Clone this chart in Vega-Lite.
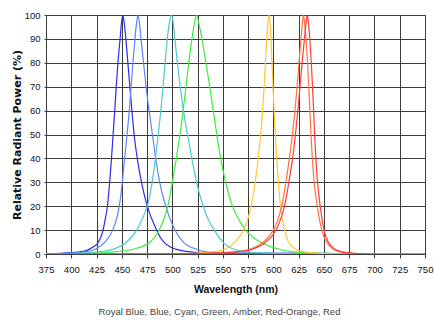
{
  "$schema": "https://vega.github.io/schema/vega-lite/v6.json",
  "width": 379,
  "height": 239,
  "autosize": {"type": "none"},
  "padding": {"left": 46, "top": 15, "right": 9, "bottom": 73},
  "background": "white",
  "title": {
    "text": "Royal Blue, Blue, Cyan, Green, Amber, Red-Orange, Red",
    "orient": "bottom",
    "anchor": "middle",
    "font": "Liberation Sans",
    "fontSize": 9.5,
    "fontWeight": "normal",
    "color": "#444444",
    "offset": 12,
    "dx": -16
  },
  "data": {
    "values": [
      {"s":"Royal Blue","x":375,"y":0},{"s":"Royal Blue","x":400,"y":0.6},{"s":"Royal Blue","x":410,"y":1},{"s":"Royal Blue","x":416,"y":1.6},{"s":"Royal Blue","x":421.8,"y":3},{"s":"Royal Blue","x":427,"y":5},{"s":"Royal Blue","x":431.5,"y":10},{"s":"Royal Blue","x":433.8,"y":15},{"s":"Royal Blue","x":435.8,"y":20},{"s":"Royal Blue","x":438,"y":30},{"s":"Royal Blue","x":439.8,"y":40},{"s":"Royal Blue","x":441.4,"y":50},{"s":"Royal Blue","x":443,"y":60},{"s":"Royal Blue","x":444.5,"y":70},{"s":"Royal Blue","x":446.2,"y":80},{"s":"Royal Blue","x":448.3,"y":90},{"s":"Royal Blue","x":449.8,"y":97},{"s":"Royal Blue","x":451,"y":100},{"s":"Royal Blue","x":452.3,"y":97},{"s":"Royal Blue","x":454,"y":90},{"s":"Royal Blue","x":456,"y":80},{"s":"Royal Blue","x":458,"y":70},{"s":"Royal Blue","x":460,"y":60},{"s":"Royal Blue","x":462.2,"y":50},{"s":"Royal Blue","x":465.3,"y":40},{"s":"Royal Blue","x":469.5,"y":30},{"s":"Royal Blue","x":475.2,"y":20},{"s":"Royal Blue","x":484.5,"y":10},{"s":"Royal Blue","x":488,"y":7},{"s":"Royal Blue","x":491.7,"y":5},{"s":"Royal Blue","x":497.7,"y":3},{"s":"Royal Blue","x":510.8,"y":1.3},{"s":"Royal Blue","x":525,"y":0.6},{"s":"Royal Blue","x":540,"y":0.3},{"s":"Royal Blue","x":600,"y":0.3},{"s":"Royal Blue","x":660,"y":0.2},{"s":"Royal Blue","x":680,"y":0},
      {"s":"Blue","x":375,"y":0},{"s":"Blue","x":400,"y":0.4},{"s":"Blue","x":415,"y":1},{"s":"Blue","x":423.5,"y":2},{"s":"Blue","x":433.4,"y":5},{"s":"Blue","x":441,"y":10},{"s":"Blue","x":445,"y":15},{"s":"Blue","x":447.5,"y":20},{"s":"Blue","x":450.5,"y":30},{"s":"Blue","x":452.8,"y":40},{"s":"Blue","x":455.2,"y":50},{"s":"Blue","x":457.4,"y":60},{"s":"Blue","x":459.2,"y":70},{"s":"Blue","x":461,"y":80},{"s":"Blue","x":463,"y":90},{"s":"Blue","x":464.7,"y":97},{"s":"Blue","x":466,"y":100},{"s":"Blue","x":467.3,"y":97},{"s":"Blue","x":469,"y":90},{"s":"Blue","x":471.5,"y":80},{"s":"Blue","x":474,"y":70},{"s":"Blue","x":477,"y":60},{"s":"Blue","x":480.3,"y":50},{"s":"Blue","x":483.5,"y":40},{"s":"Blue","x":487.5,"y":30},{"s":"Blue","x":493.5,"y":20},{"s":"Blue","x":497.5,"y":15},{"s":"Blue","x":502.6,"y":10},{"s":"Blue","x":510.8,"y":5},{"s":"Blue","x":524,"y":2},{"s":"Blue","x":532,"y":1},{"s":"Blue","x":545,"y":0.5},{"s":"Blue","x":600,"y":0.3},{"s":"Blue","x":670,"y":0.2},{"s":"Blue","x":690,"y":0},
      {"s":"Cyan","x":375,"y":0},{"s":"Cyan","x":410,"y":0.4},{"s":"Cyan","x":428.4,"y":1},{"s":"Cyan","x":441.6,"y":2},{"s":"Cyan","x":454.8,"y":5},{"s":"Cyan","x":464.7,"y":10},{"s":"Cyan","x":470.5,"y":15},{"s":"Cyan","x":475.2,"y":20},{"s":"Cyan","x":480,"y":30},{"s":"Cyan","x":483.3,"y":40},{"s":"Cyan","x":486,"y":50},{"s":"Cyan","x":488.6,"y":60},{"s":"Cyan","x":490.8,"y":70},{"s":"Cyan","x":492.8,"y":80},{"s":"Cyan","x":495,"y":90},{"s":"Cyan","x":497.2,"y":97},{"s":"Cyan","x":499,"y":100},{"s":"Cyan","x":500.8,"y":97},{"s":"Cyan","x":502.5,"y":90},{"s":"Cyan","x":505,"y":80},{"s":"Cyan","x":507.8,"y":70},{"s":"Cyan","x":511,"y":60},{"s":"Cyan","x":515,"y":50},{"s":"Cyan","x":519.3,"y":40},{"s":"Cyan","x":524,"y":30},{"s":"Cyan","x":530.5,"y":20},{"s":"Cyan","x":535,"y":15},{"s":"Cyan","x":541.5,"y":10},{"s":"Cyan","x":550,"y":5},{"s":"Cyan","x":561,"y":2},{"s":"Cyan","x":572,"y":1},{"s":"Cyan","x":600,"y":0.3},{"s":"Cyan","x":640,"y":0},
      {"s":"Green","x":375,"y":0},{"s":"Green","x":420,"y":0.3},{"s":"Green","x":445,"y":1},{"s":"Green","x":461,"y":2},{"s":"Green","x":478,"y":5},{"s":"Green","x":487,"y":10},{"s":"Green","x":492,"y":15},{"s":"Green","x":495.5,"y":20},{"s":"Green","x":500,"y":30},{"s":"Green","x":504,"y":40},{"s":"Green","x":507.5,"y":50},{"s":"Green","x":510.7,"y":60},{"s":"Green","x":513.5,"y":70},{"s":"Green","x":516.2,"y":80},{"s":"Green","x":519.4,"y":90},{"s":"Green","x":522,"y":97},{"s":"Green","x":524,"y":100},{"s":"Green","x":526,"y":97},{"s":"Green","x":529.3,"y":90},{"s":"Green","x":533.3,"y":80},{"s":"Green","x":537,"y":70},{"s":"Green","x":540.5,"y":60},{"s":"Green","x":544,"y":50},{"s":"Green","x":547.8,"y":40},{"s":"Green","x":552.8,"y":30},{"s":"Green","x":559.5,"y":20},{"s":"Green","x":565,"y":15},{"s":"Green","x":572.5,"y":10},{"s":"Green","x":587,"y":5},{"s":"Green","x":606,"y":2},{"s":"Green","x":618,"y":1},{"s":"Green","x":640,"y":0.4},{"s":"Green","x":660,"y":0.2},{"s":"Green","x":690,"y":0},
      {"s":"Amber","x":375,"y":0},{"s":"Amber","x":480,"y":0},{"s":"Amber","x":520,"y":0.3},{"s":"Amber","x":542,"y":1},{"s":"Amber","x":552,"y":2},{"s":"Amber","x":562,"y":5},{"s":"Amber","x":570.5,"y":10},{"s":"Amber","x":575,"y":15},{"s":"Amber","x":578,"y":20},{"s":"Amber","x":582,"y":30},{"s":"Amber","x":585,"y":40},{"s":"Amber","x":587.4,"y":50},{"s":"Amber","x":589.3,"y":60},{"s":"Amber","x":590.8,"y":70},{"s":"Amber","x":592.1,"y":80},{"s":"Amber","x":593.4,"y":90},{"s":"Amber","x":594.6,"y":97},{"s":"Amber","x":595.6,"y":100},{"s":"Amber","x":596.6,"y":97},{"s":"Amber","x":597.6,"y":90},{"s":"Amber","x":598.6,"y":80},{"s":"Amber","x":599.6,"y":70},{"s":"Amber","x":600.7,"y":60},{"s":"Amber","x":601.9,"y":50},{"s":"Amber","x":603.3,"y":40},{"s":"Amber","x":605,"y":30},{"s":"Amber","x":607,"y":20},{"s":"Amber","x":608.7,"y":15},{"s":"Amber","x":611,"y":10},{"s":"Amber","x":615,"y":5},{"s":"Amber","x":622,"y":2},{"s":"Amber","x":629,"y":1},{"s":"Amber","x":645,"y":0.3},{"s":"Amber","x":665,"y":0},
      {"s":"Red-Orange","x":375,"y":0},{"s":"Red-Orange","x":500,"y":0.1},{"s":"Red-Orange","x":540,"y":0.4},{"s":"Red-Orange","x":563.6,"y":1},{"s":"Red-Orange","x":576.8,"y":2},{"s":"Red-Orange","x":590,"y":5},{"s":"Red-Orange","x":600,"y":10},{"s":"Red-Orange","x":605,"y":15},{"s":"Red-Orange","x":608.2,"y":20},{"s":"Red-Orange","x":612.3,"y":30},{"s":"Red-Orange","x":615.8,"y":40},{"s":"Red-Orange","x":618.8,"y":50},{"s":"Red-Orange","x":621.3,"y":60},{"s":"Red-Orange","x":623.4,"y":70},{"s":"Red-Orange","x":625.3,"y":80},{"s":"Red-Orange","x":627.3,"y":90},{"s":"Red-Orange","x":628.8,"y":97},{"s":"Red-Orange","x":629.8,"y":100},{"s":"Red-Orange","x":630.8,"y":97},{"s":"Red-Orange","x":632.3,"y":90},{"s":"Red-Orange","x":633.8,"y":80},{"s":"Red-Orange","x":635,"y":70},{"s":"Red-Orange","x":636.1,"y":60},{"s":"Red-Orange","x":637.2,"y":50},{"s":"Red-Orange","x":638.5,"y":40},{"s":"Red-Orange","x":640.4,"y":30},{"s":"Red-Orange","x":643.4,"y":20},{"s":"Red-Orange","x":645.4,"y":15},{"s":"Red-Orange","x":647.8,"y":10},{"s":"Red-Orange","x":652.7,"y":5},{"s":"Red-Orange","x":659.3,"y":2},{"s":"Red-Orange","x":665,"y":1},{"s":"Red-Orange","x":678,"y":0.3},{"s":"Red-Orange","x":700,"y":0},{"s":"Red-Orange","x":750,"y":0},
      {"s":"Red","x":375,"y":0},{"s":"Red","x":510,"y":0.1},{"s":"Red","x":545,"y":0.4},{"s":"Red","x":566,"y":1},{"s":"Red","x":579,"y":2},{"s":"Red","x":592.5,"y":5},{"s":"Red","x":602.6,"y":10},{"s":"Red","x":607.5,"y":15},{"s":"Red","x":611,"y":20},{"s":"Red","x":615.3,"y":30},{"s":"Red","x":619,"y":40},{"s":"Red","x":621.8,"y":50},{"s":"Red","x":624.2,"y":60},{"s":"Red","x":626.3,"y":70},{"s":"Red","x":628.4,"y":80},{"s":"Red","x":630.7,"y":90},{"s":"Red","x":632.4,"y":97},{"s":"Red","x":633.5,"y":100},{"s":"Red","x":634.6,"y":97},{"s":"Red","x":636,"y":90},{"s":"Red","x":637.5,"y":80},{"s":"Red","x":638.7,"y":70},{"s":"Red","x":639.8,"y":60},{"s":"Red","x":640.8,"y":50},{"s":"Red","x":642,"y":40},{"s":"Red","x":643.7,"y":30},{"s":"Red","x":646.3,"y":20},{"s":"Red","x":648,"y":15},{"s":"Red","x":650.1,"y":10},{"s":"Red","x":654.3,"y":5},{"s":"Red","x":661,"y":2},{"s":"Red","x":667.6,"y":1},{"s":"Red","x":680,"y":0.3},{"s":"Red","x":700,"y":0},{"s":"Red","x":750,"y":0}
    ]
  },
  "mark": {"type": "line", "interpolate": "monotone", "strokeWidth": 1.2, "clip": true},
  "encoding": {
    "x": {
      "field": "x",
      "type": "quantitative",
      "scale": {"domain": [375, 750], "nice": false, "zero": false},
      "axis": {
        "values": [375,400,425,450,475,500,525,550,575,600,625,650,675,700,725,750],
        "title": "Wavelength (nm)",
        "titleFont": "Liberation Sans",
        "titleFontSize": 10.5,
        "titleFontWeight": "bold",
        "titleColor": "#111111",
        "titleX": 189.5,
        "titleY": 35,
        "titleBaseline": "middle",
        "titleAlign": "center",
        "labelFont": "Liberation Sans",
        "labelFontSize": 9.5,
        "labelColor": "#111111",
        "labelPadding": 6,
        "labelOverlap": false,
        "labelFlush": false,
        "tickSize": 4,
        "tickColor": "#404040",
        "domain": false,
        "grid": true,
        "gridColor": "#3c3c3c",
        "gridWidth": 1
      }
    },
    "y": {
      "field": "y",
      "type": "quantitative",
      "scale": {"domain": [0, 100], "nice": false},
      "axis": {
        "values": [0,10,20,30,40,50,60,70,80,90,100],
        "title": "Relative Radiant Power (%)",
        "titleFont": "DejaVu Sans",
        "titleFontSize": 11,
        "titleFontWeight": "bold",
        "titleColor": "#111111",
        "titleAngle": 270,
        "titleX": -29,
        "titleY": 119.5,
        "titleBaseline": "middle",
        "titleAlign": "center",
        "labelFont": "Liberation Sans",
        "labelFontSize": 9.5,
        "labelColor": "#111111",
        "labelPadding": 4,
        "labelFlush": false,
        "tickSize": 2,
        "tickColor": "#404040",
        "domain": false,
        "grid": true,
        "gridColor": "#3c3c3c",
        "gridWidth": 1
      }
    },
    "color": {
      "field": "s",
      "type": "nominal",
      "scale": {
        "domain": ["Royal Blue", "Blue", "Cyan", "Green", "Amber", "Red-Orange", "Red"],
        "range": ["#2b2be8", "#5a86f7", "#4fcaca", "#3cee3c", "#ffc832", "#ff7538", "#ff3a48"]
      },
      "legend": null
    }
  },
  "config": {
    "view": {"stroke": "#8c8c8c", "strokeWidth": 1}
  }
}
